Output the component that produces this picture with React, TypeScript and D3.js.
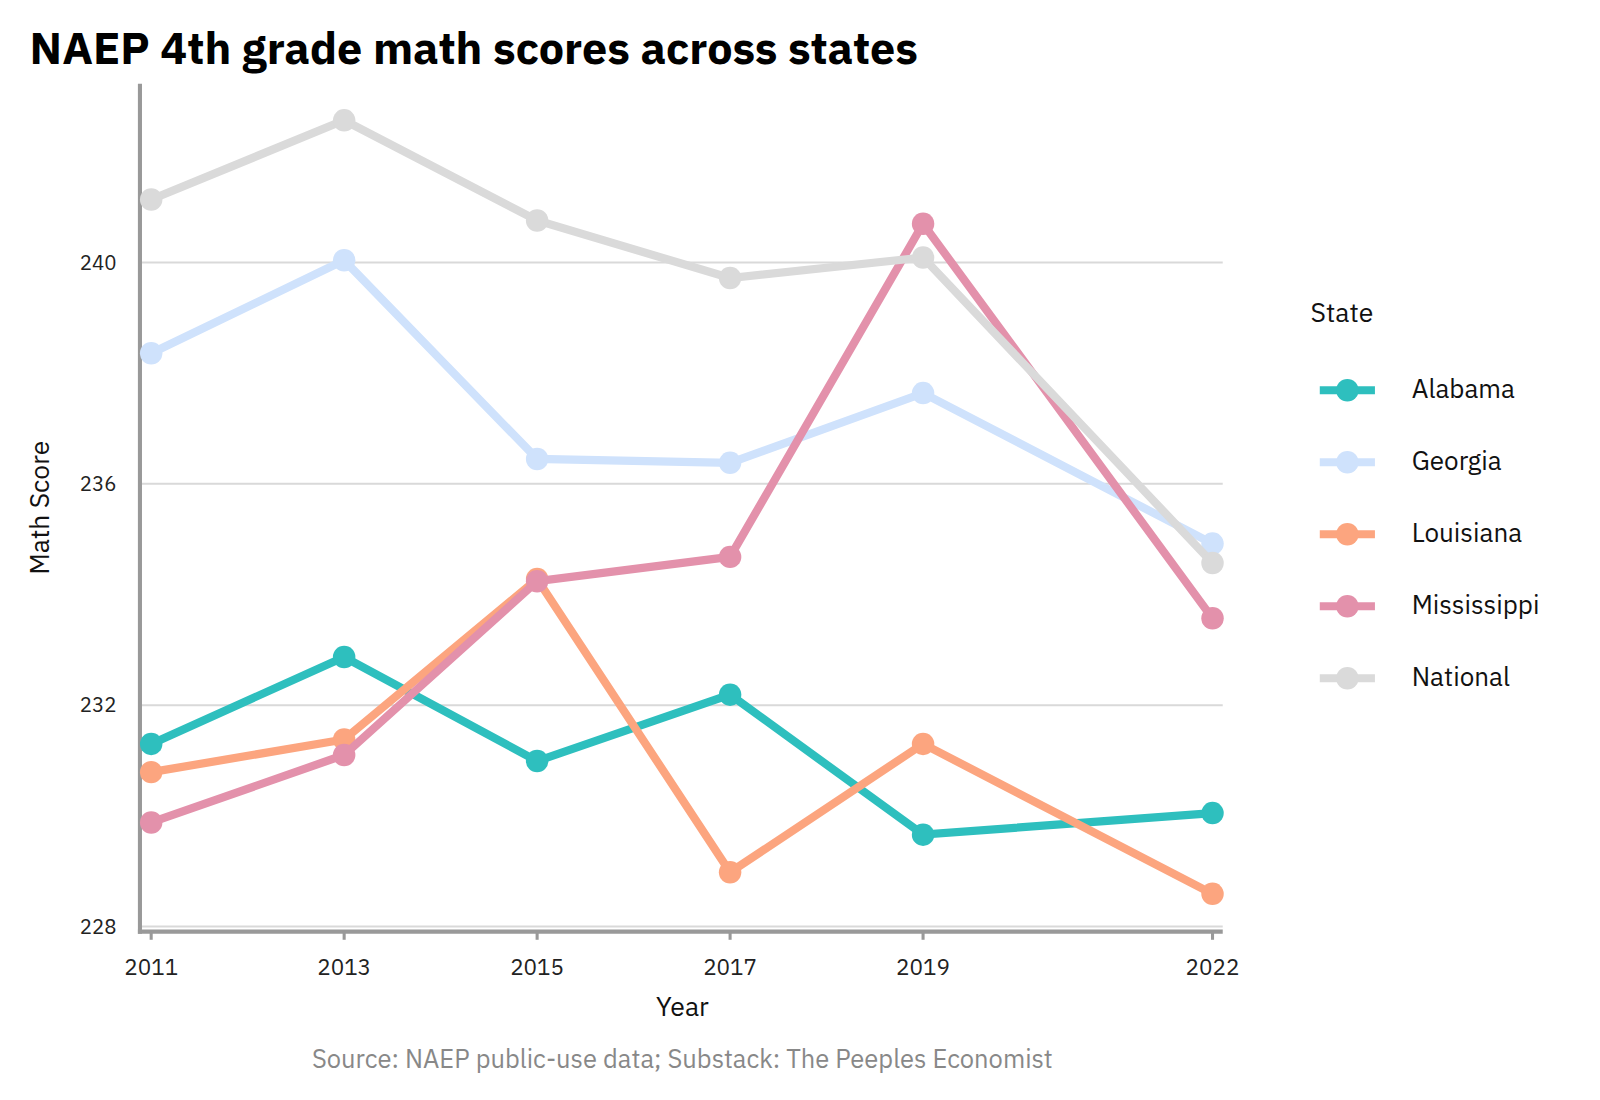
import React from 'react';
import * as d3 from 'd3';

const years = [2011, 2013, 2015, 2017, 2019, 2022];
const states = ['Alabama', 'Georgia', 'Louisiana', 'Mississippi', 'National'];
const alabama = [231.3, 232.87, 230.99, 232.19, 229.66, 230.05];
const georgia = [238.36, 240.04, 236.45, 236.38, 237.64, 234.92];
const louisiana = [230.79, 231.38, 234.28, 228.98, 231.3, 228.59];
const mississippi = [229.88, 231.1, 234.24, 234.68, 240.7, 233.57];
const national = [241.14, 242.57, 240.76, 239.72, 240.09, 234.57];
const colors = ['#2ebfbe', '#cfe2fc', '#fca57f', '#e391ab', '#dadada'];
const yTicks = [228, 232, 236, 240];

const series = [alabama, georgia, louisiana, mississippi, national];

export default function App() {
  const x = d3.scaleLinear().domain([2011, 2022]).range([148, 1187]);
  const y = d3.scaleLinear().domain([228, 240]).range([907, 257]);
  const line = d3
    .line<number>()
    .x((_, i) => x(years[i]))
    .y((d) => y(d));
  const font = '"IBM Plex Sans", "Noto Sans", sans-serif';

  return (
    <svg width={1600} height={1100} style={{ position: 'absolute', left: 0, top: 0, fontFamily: font }}>
      <rect width={1600} height={1100} fill="#fff" />
      <g transform="scale(1.0215)">
        <text x={29} y={63} fontSize={44} fontWeight="bold" fill="#000">
          NAEP 4th grade math scores across states
        </text>
        {yTicks.map((t) => (
          <g key={t}>
            <line x1={137} x2={1197} y1={y(t)} y2={y(t)} stroke="#d9d9d9" strokeWidth={2} />
            <text x={114} y={y(t) + 7} fontSize={20} textAnchor="end" fill="#222">
              {t}
            </text>
          </g>
        ))}
        <line x1={137} x2={137} y1={82} y2={914} stroke="#999" strokeWidth={4} />
        <line x1={135} x2={1197} y1={912} y2={912} stroke="#999" strokeWidth={4} />
        {years.map((yr) => (
          <g key={yr}>
            <line x1={x(yr)} x2={x(yr)} y1={912} y2={920} stroke="#999" strokeWidth={3} />
            <text x={x(yr)} y={954} fontSize={22} textAnchor="middle" fill="#222">
              {yr}
            </text>
          </g>
        ))}
        <text x={668} y={995} fontSize={26} textAnchor="middle" fill="#111">
          Year
        </text>
        <text transform="translate(48,497) rotate(-90)" fontSize={26} textAnchor="middle" fill="#111">
          Math Score
        </text>
        {series.map((s, k) => (
          <g key={states[k]}>
            <path d={line(s) ?? ''} fill="none" stroke={colors[k]} strokeWidth={8} />
            {s.map((v, i) => (
              <circle key={i} cx={x(years[i])} cy={y(v)} r={11} fill={colors[k]} />
            ))}
          </g>
        ))}
        <text x={1283} y={315} fontSize={26} fill="#111">
          State
        </text>
        {states.map((st, k) => {
          const ly = 382 + k * 70.5;
          return (
            <g key={st}>
              <line x1={1292} x2={1346} y1={ly} y2={ly} stroke={colors[k]} strokeWidth={8} />
              <circle cx={1319} cy={ly} r={11} fill={colors[k]} />
              <text x={1382} y={ly + 8} fontSize={25.5} fill="#111">
                {st}
              </text>
            </g>
          );
        })}
        <text x={668} y={1046} fontSize={25} textAnchor="middle" fill="#888">
          Source: NAEP public-use data; Substack: The Peeples Economist
        </text>
      </g>
    </svg>
  );
}
